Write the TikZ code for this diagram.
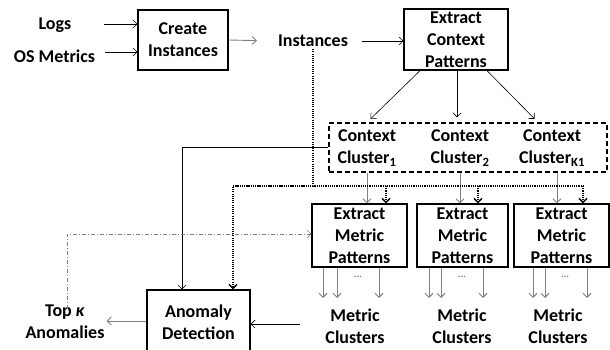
\documentclass[tikz,border=0pt]{standalone}
\usepackage{fontspec}
\setmainfont{Carlito}
\usetikzlibrary{arrows.meta}
\tikzset{
  lbl/.style={font=\bfseries\fontsize{18}{22}\selectfont, align=center, inner sep=2pt},
  box/.style={lbl, draw, line width=1.3pt},
  arr/.style={line width=0.6pt, -{Straight Barb[length=4pt,width=8pt]}},
  garr/.style={arr, draw=gray, line width=0.9pt},
  dotl/.style={line width=1.7pt, dash pattern=on 1.1pt off 1.1pt},
  dotarr/.style={dotl, -{Straight Barb[length=4pt,width=8pt,line width=1.4pt]}},
  ddash/.style={draw=gray, line width=0.6pt, dash pattern=on 4pt off 2pt on 1pt off 2pt,
    -{Straight Barb[length=4pt,width=8pt]}},
  groupbox/.style={draw, line width=1.3pt, dash pattern=on 5pt off 3pt},
  dotsl/.style={font=\bfseries, text=gray, inner sep=0pt}
}
\begin{document}
\begin{tikzpicture}[x=1pt,y=-1pt]
\useasboundingbox (0,0) rectangle (610,350);

% inputs and instance creation
\node[lbl] (logs) at (55,25) {Logs};
\node[lbl] (osm) at (54.5,56) {OS Metrics};
\node[box, minimum width=90pt, minimum height=60pt] (create) at (183,40) {Create\\Instances};
\node[lbl] (inst) at (313,41) {Instances};
\node[box, minimum width=104pt, minimum height=61pt] (ecp) at (456,39.5) {Extract\\Context\\Patterns};

\coordinate (logsIn) at (104,24);
\coordinate (osmIn) at (105,52);
\draw[arr] (logsIn) -- (logsIn -| create.west);
\draw[arr] (osmIn) -- (osmIn -| create.west);
\draw[garr, shorten >=19pt] (create.east) -- (inst.west);
\draw[arr, shorten <=12pt] (inst.east) -- (ecp.west |- inst.east);

% context clusters
\node[groupbox, minimum width=278pt, minimum height=49pt] (ctx) at (468,147.5) {};
\node[lbl] (c1) at (367,148) {Context\\Cluster\textsubscript{1}};
\node[lbl] (c2) at (460,148) {Context\\Cluster\textsubscript{2}};
\node[lbl] (c3) at (552,148) {Context\\Cluster\textsubscript{K1}};

\draw[arr, shorten >=5pt] ([xshift=-36pt]ecp.south) -- (ctx.north -| c1);
\draw[arr, shorten >=5pt] ([xshift=1pt]ecp.south) -- ([xshift=1pt]ecp.south |- ctx.north);
\draw[arr, shorten >=5pt] ([xshift=31pt]ecp.south) -- (ctx.north -| 538,0);

% metric pattern extraction
\node[box, minimum width=95pt, minimum height=63pt] (m1) at (359.5,235.5) {Extract\\Metric\\Patterns};
\node[box, minimum width=91pt, minimum height=63pt] (m2) at (462.5,235.5) {Extract\\Metric\\Patterns};
\node[box, minimum width=95pt, minimum height=63pt] (m3) at (561.5,235.5) {Extract\\Metric\\Patterns};

\draw[garr] (ctx.south -| c1) -- (m1.north -| c1);
\draw[garr] (ctx.south -| c2) -- (m2.north -| c2);
\draw[garr] (ctx.south -| 557,0) -- (m3.north -| 557,0);

\node[lbl] (mc1) at (355,326) {Metric\\Clusters};
\node[lbl] (mc2) at (462,326) {Metric\\Clusters};
\node[lbl] (mc3) at (558,326) {Metric\\Clusters};

\foreach \x in {323,337,379}
  \draw[garr] (m1.south -| \x,0) -- (\x,298);
\foreach \x in {429,441,483}
  \draw[garr] (m2.south -| \x,0) -- (\x,298);
\foreach \x in {533,545,587}
  \draw[garr] (m3.south -| \x,0) -- (\x,298);
\node[dotsl] (d1) at (358,277) {...};
\node[dotsl] (d2) at (462,277) {...};
\node[dotsl] (d3) at (565,277) {...};

% anomaly detection
\node[box, minimum width=103pt, minimum height=64pt] (anom) at (198.5,322) {Anomaly\\Detection};
\node[lbl] (top) at (65,322) {Top \textit{κ}\\Anomalies};

\draw[arr] (ctx.west) -| (anom.north -| 182,0);
\coordinate (mcIn) at (300,324);
\draw[arr] (mcIn) -- (mcIn -| anom.east);
\draw[garr] (anom.west |- 0,321) -- (top.east |- 0,321);

% instances distributed to detection and metric extraction
\coordinate (busL) at (233,186);
\coordinate (busR) at (583,186);
\draw[dotarr] (inst.south) |- (busL) -- (anom.north -| busL);
\draw[dotl] (busL) -- (busR);
\draw[dotarr] (busR) -- (m3.north -| busR);
\draw[dotarr] (386,186) -- (m1.north -| 386,0);
\draw[dotarr] (478,186) -- (m2.north -| 478,0);

% feedback of top anomalies
\draw[ddash] ([yshift=-6pt]top.north -| 67,0) |- (m1.west |- 0,234);
\end{tikzpicture}
\end{document}
